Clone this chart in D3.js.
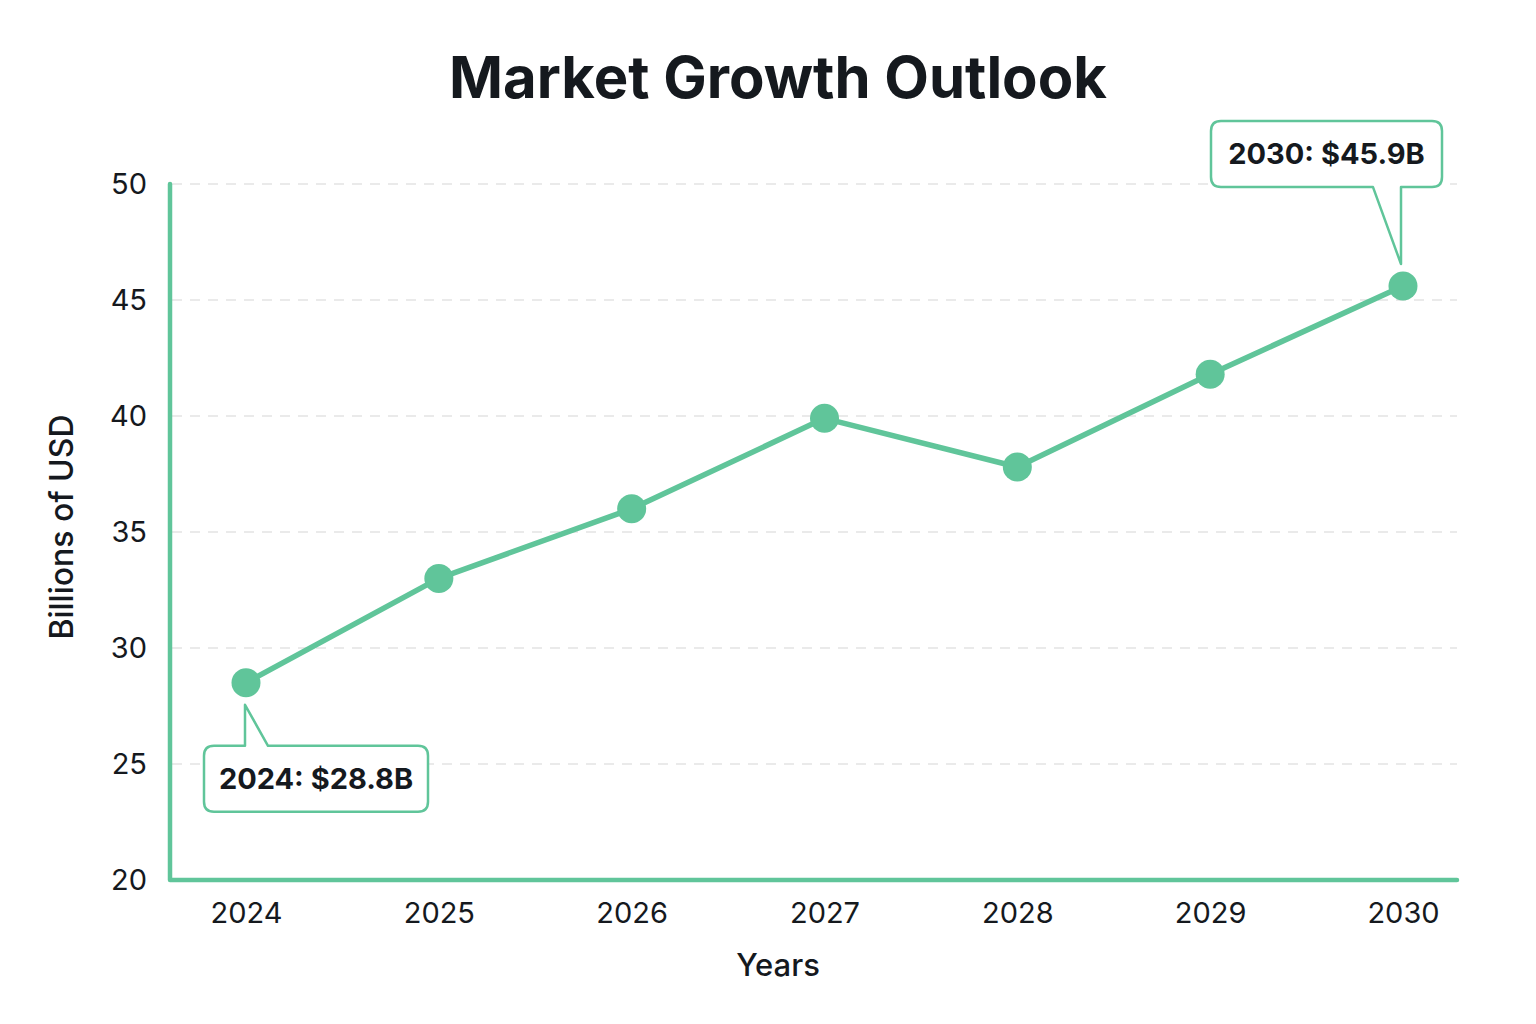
<!DOCTYPE html>
<html>
<head>
<meta charset="utf-8">
<script src="https://cdn.jsdelivr.net/npm/d3@7"></script>
<style>
  body { margin: 0; background: #fff; overflow: hidden; }
  text { font-family: Inter, "Noto Sans", sans-serif; fill: #15191e; }
</style>
</head>
<body>
<script>
// data
var years = [2024, 2025, 2026, 2027, 2028, 2029, 2030];
var values = [28.5, 33.0, 36.0, 39.9, 37.8, 41.8, 45.6];
var yTicks = [20, 25, 30, 35, 40, 45, 50];
var callouts = [
  { year: 2024, text: "2024: $28.8B", side: "below" },
  { year: 2030, text: "2030: $45.9B", side: "above" }
];

var green = "#60c59a";

var svg = d3.select("body").append("svg")
    .attr("width", 1536)
    .attr("height", 1024);

var x = d3.scaleLinear().domain([2024, 2030]).range([246, 1403]);
var y = d3.scaleLinear().domain([20, 50]).range([880, 184]);

//title
svg.append("text")
    .attr("x", 778).attr("y", 98)
    .attr("text-anchor", "middle")
    .attr("font-size", 58).attr("font-weight", 700)
    .text("Market Growth Outlook");

//grid
svg.append("g").selectAll("line")
    .data(yTicks.filter(function (d) { return d > 20; }))
    .join("line")
    .attr("x1", 172).attr("x2", 1457)
    .attr("y1", function (d) { return y(d); })
    .attr("y2", function (d) { return y(d); })
    .attr("stroke", "#e3e3e3")
    .attr("stroke-width", 1.5)
    .attr("stroke-dasharray", "10 8");

//y axis labels
var yAxis = svg.append("g")
    .attr("transform", "translate(170,0)")
    .call(d3.axisLeft(y).tickValues(yTicks).tickSize(0).tickPadding(23));
yAxis.select(".domain").remove();
yAxis.selectAll("text")
    .attr("font-size", 29)
    .attr("fill", "#15191e")
    .style("font-family", "Inter, 'Noto Sans', sans-serif");

//x axis labels
var xAxis = svg.append("g")
    .attr("transform", "translate(0,880)")
    .call(d3.axisBottom(x).tickValues(years).tickFormat(d3.format("d")).tickSize(0).tickPadding(22));
xAxis.select(".domain").remove();
xAxis.selectAll("text")
    .attr("font-size", 29)
    .attr("fill", "#15191e")
    .style("font-family", "Inter, 'Noto Sans', sans-serif");

//axis lines
svg.append("path")
    .attr("d", "M170,184 V880 H1457")
    .attr("fill", "none")
    .attr("stroke", green)
    .attr("stroke-width", 4.5)
    .attr("stroke-linecap", "round")
    .attr("stroke-linejoin", "round");

//axis titles
svg.append("text")
    .attr("x", 778).attr("y", 976)
    .attr("text-anchor", "middle")
    .attr("font-size", 31).attr("font-weight", 500)
    .text("Years");

svg.append("text")
    .attr("transform", "translate(73,527) rotate(-90)")
    .attr("text-anchor", "middle")
    .attr("font-size", 32).attr("font-weight", 500)
    .text("Billions of USD");

//line and points
var pts = years.map(function (d, i) { return [x(d), y(values[i])]; });

svg.append("path")
    .attr("d", d3.line()(pts))
    .attr("fill", "none")
    .attr("stroke", green)
    .attr("stroke-width", 5.5)
    .attr("stroke-linejoin", "round");

svg.append("g").selectAll("circle")
    .data(pts)
    .join("circle")
    .attr("cx", function (d) { return d[0]; })
    .attr("cy", function (d) { return d[1]; })
    .attr("r", 14.5)
    .attr("fill", green);

//callouts
callouts.forEach(function (c) {
    var i = years.indexOf(c.year);
    var px = x(c.year), py = y(values[i]);
    var w, h = 66, bx, by, r = 10, d;
    if (c.side == "below") {
        w = 224; bx = px - 42; by = py + 63;
        var tip = py + 22;
        d = "M" + (bx + r) + "," + by +
            " H" + (px - 1) + " V" + tip + " L" + (px + 22) + "," + by +
            " H" + (bx + w - r) + " Q" + (bx + w) + "," + by + " " + (bx + w) + "," + (by + r) +
            " V" + (by + h - r) + " Q" + (bx + w) + "," + (by + h) + " " + (bx + w - r) + "," + (by + h) +
            " H" + (bx + r) + " Q" + bx + "," + (by + h) + " " + bx + "," + (by + h - r) +
            " V" + (by + r) + " Q" + bx + "," + by + " " + (bx + r) + "," + by + " Z";
    } else {
        w = 231; bx = px - 192; by = py - 165;
        var tip = py - 22;
        var bb = by + h;
        d = "M" + (bx + r) + "," + by +
            " H" + (bx + w - r) + " Q" + (bx + w) + "," + by + " " + (bx + w) + "," + (by + r) +
            " V" + (bb - r) + " Q" + (bx + w) + "," + bb + " " + (bx + w - r) + "," + bb +
            " H" + (px - 2) + " V" + tip + " L" + (px - 30) + "," + bb +
            " H" + (bx + r) + " Q" + bx + "," + bb + " " + bx + "," + (bb - r) +
            " V" + (by + r) + " Q" + bx + "," + by + " " + (bx + r) + "," + by + " Z";
    }
    svg.append("path")
        .attr("d", d)
        .attr("fill", "#fff")
        .attr("stroke", green)
        .attr("stroke-width", 2.5)
        .attr("stroke-linejoin", "round");
    svg.append("text")
        .attr("x", bx + w / 2).attr("y", by + h / 2 + 10)
        .attr("text-anchor", "middle")
        .attr("font-size", 29).attr("font-weight", 700)
        .text(c.text);
});
</script>
</body>
</html>
